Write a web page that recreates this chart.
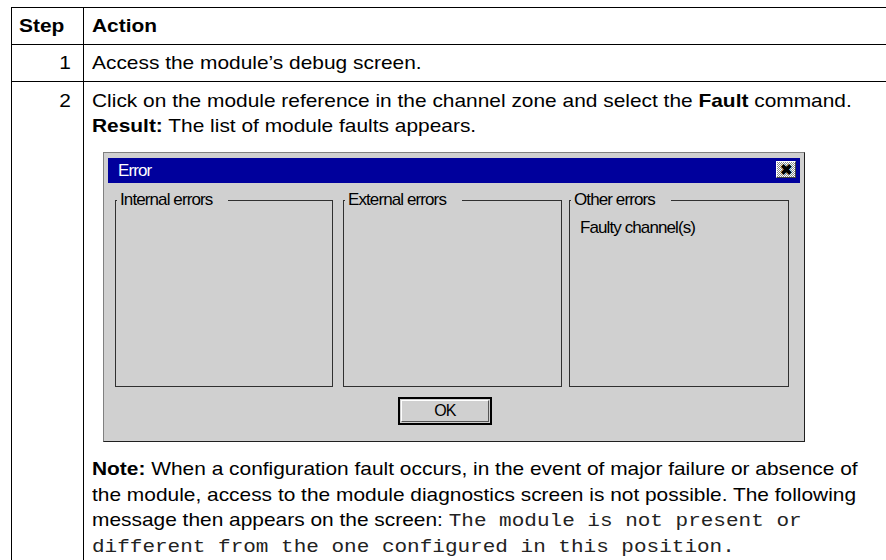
<!DOCTYPE html>
<html lang="en">
<head>
<meta charset="UTF-8">
<title>Step / Action</title>
<script src="https://cdn.jsdelivr.net/npm/chart.js"></script>
<style>
    body {
        margin: 0;
        width: 886px;
        height: 560px;
        overflow: hidden;
        background: #fff;
        font-family: "Liberation Sans", Arial, Helvetica, sans-serif;
        color: #000;
        position: relative;
    }
    .hl { position: absolute; left: 11px; width: 880px; height: 1px; background: #000; }
    .vl { position: absolute; top: 7px; width: 1px; height: 560px; background: #000; }
    .t {
        position: absolute; font-size: 19px; white-space: nowrap; line-height: 25px;
        transform: scaleX(1.1); transform-origin: left center;
    }
    .num { text-align: right; width: 60px; left: 11px; transform-origin: right center; }
    .mono { font-family: "Liberation Mono", "Courier New", monospace; font-size: 19.1px; color: #222; }

    .dlg {
        position: absolute; left: 103px; top: 152px; width: 700px; height: 288px;
        background: #d0d0d0; border: 1px solid #808080; border-right-color: #202020; border-bottom-color: #202020;
    }
    .dlg * { font-family: "Liberation Sans", Arial, sans-serif; letter-spacing: -0.9px; }
    .title {
        position: absolute; left: 4px; top: 5px; width: 692px; height: 25px;
        background: #00009c; color: #fff; font-size: 17px; line-height: 25px;
    }
    .title span { position: absolute; left: 10px; }
    .close {
        position: absolute; right: 4px; top: 3px; width: 18px; height: 15px;
        background: repeating-conic-gradient(#fff 0 25%, #8a8a8a 0 50%) 0 0 / 2px 2px;
        border: 1px solid #fff; border-right-color: #404040; border-bottom-color: #404040;
        font: bold 15px/15px "Liberation Sans", sans-serif; text-align: center; color: #000;
    }
    fieldset {
        position: absolute; margin: 0; padding: 0; top: 40px; height: 194px;
        border: 1px solid #303030; box-sizing: border-box;
    }
    legend { font-size: 17px; padding: 0 16px 0 3px; margin-left: 1px; line-height: 14px; color: #000; }
    .fc { position: absolute; left: 10px; top: 11px; font-size: 17px; white-space: nowrap; }
    .ok {
        position: absolute; left: 294px; top: 244px; width: 94px; height: 28px;
        border: 2px solid #000; box-sizing: border-box; padding: 1px;
    }
    .ok div {
        width: 100%; height: 100%; box-sizing: border-box;
        border: 1px solid #555; border-top-color: #fff; border-left-color: #fff;
        text-align: center; font-size: 16px; line-height: 20px;
    }
</style>
</head>
<body>
<script>
    // contenu du tableau
    const headers = ["Step", "Action"];
    const steps = ["1", "2"];
    const row1 = "Access the module\u2019s debug screen.";
    const row2Lines = [
        ["Click on the module reference in the channel zone and select the ", "<b>Fault</b>", " command."],
        ["<b>Result:</b>", " The list of module faults appears."]
    ];
    const groupTitles = ["Internal errors", "External errors", "Other errors"];
    const groupItems = [[], [], ["Faulty channel(s)"]];
    const noteLines = [
        "<b>Note:</b> When a configuration fault occurs, in the event of major failure or absence of",
        "the module, access to the module diagnostics screen is not possible. The following",
        "message then appears on the screen: <span class=\"mono\">The module is not present or</span>",
        "<span class=\"mono\">different from the one configured in this position.</span>"
    ];

    function add(html) { document.body.insertAdjacentHTML('beforeend', html); }

    // lignes du tableau
    [7, 44, 81].forEach(y => add(`<div class="hl" style="top:${y}px"></div>`));
    [11, 83].forEach(x => add(`<div class="vl" style="left:${x}px"></div>`));

    add(`<div class="t" style="left:19px;top:13px;font-weight:bold">${headers[0]}</div>`);
    add(`<div class="t" style="left:92px;top:13px;font-weight:bold">${headers[1]}</div>`);
    add(`<div class="t num" style="top:50px">${steps[0]}</div>`);
    add(`<div class="t" style="left:92px;top:50px">${row1}</div>`);
    add(`<div class="t num" style="top:88px">${steps[1]}</div>`);
    row2Lines.forEach((l, i) => add(`<div class="t" style="left:92px;top:${88 + i * 25}px">${l.join('')}</div>`));

    // boite de dialogue
    const lefts = [11, 239, 465];
    const widths = [218, 219, 220];
    let dlg = `<div class="dlg"><div class="title"><span>Error</span><div class="close">\u2716</div></div>`;
    groupTitles.forEach((g, i) => {
        dlg += `<fieldset style="left:${lefts[i]}px;width:${widths[i]}px"><legend>${g}</legend>` +
            groupItems[i].map(s => `<div class="fc">${s}</div>`).join('') + `</fieldset>`;
    });
    dlg += `<div class="ok"><div>OK</div></div></div>`;
    add(dlg);

    noteLines.forEach((l, i) => add(`<div class="t" style="left:92px;top:${456 + i * 25.7}px">${l}</div>`));
</script>
</body>
</html>
